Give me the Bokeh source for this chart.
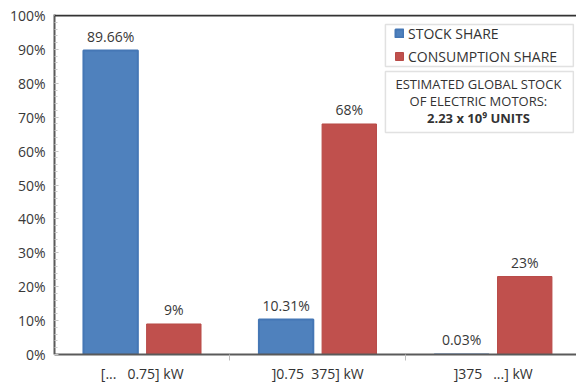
from bokeh.plotting import figure
from bokeh.models import (Range1d, FixedTicker, PrintfTickFormatter, Span, Legend,
                          LegendItem, Label, BoxAnnotation, ColumnDataSource)
from bokeh.core.properties import value
from bokeh.embed import file_html
from bokeh.resources import INLINE

categories = ["[...\u00a0\u00a0 0.75] kW", "]0.75\u00a0 375] kW", "]375\u00a0\u00a0 ...] kW"]
stock_share = [89.66, 10.31, 0.03]
consumption_share = [9, 68, 23]
stock_labels = ["89.66%", "10.31%", "0.03%"]
consumption_labels = ["9%", "68%", "23%"]
y_ticks = [0, 10, 20, 30, 40, 50, 60, 70, 80, 90, 100]
series_names = ["STOCK SHARE", "CONSUMPTION SHARE"]
info_lines = ["ESTIMATED GLOBAL STOCK", "OF ELECTRIC MOTORS:", "2.23 x 10\u2079 UNITS"]

BLUE = "#4F81BD"
RED = "#C0504D"
FONT = "Open Sans"
TXT = "#383838"

centers = [i + 0.5 for i in range(len(categories))]
off = 0.18
bw = 0.31

src_s = ColumnDataSource(dict(x=[c - off for c in centers], top=stock_share, lab=stock_labels))
src_c = ColumnDataSource(dict(x=[c + off for c in centers], top=consumption_share, lab=consumption_labels))

p = figure(width=576, height=387, output_backend="svg", toolbar_location=None,
           x_range=Range1d(0, 2.975), y_range=Range1d(0, 100.3),
           min_border_left=54, min_border_right=0, min_border_top=14, min_border_bottom=33)
p.outline_line_color = None
p.xgrid.visible = False
p.ygrid.visible = False
p.background_fill_color = "white"
p.border_fill_color = "white"

r1 = p.vbar(x="x", top="top", width=bw, source=src_s, fill_color=BLUE, line_color="#4577b5", line_width=2)
r2 = p.vbar(x="x", top="top", width=bw, source=src_c, fill_color=RED, line_color="#b84a47", line_width=1)

for src in (src_s, src_c):
    p.text(x="x", y="top", text="lab", source=src, text_align="center", text_baseline="bottom",
           y_offset=-5, text_font=value(FONT), text_font_size="14px", text_color=TXT)

# y axis
ya = p.yaxis[0]
ya.ticker = FixedTicker(ticks=y_ticks, minor_ticks=list(range(0, 101, 2)))
ya.formatter = PrintfTickFormatter(format="%d%%")
ya.axis_line_color = "#5a5a5a"
ya.axis_line_width = 2
ya.major_tick_in = 4
ya.major_tick_out = 0
ya.major_tick_line_color = "#c0c0c0"
ya.minor_tick_in = 3
ya.minor_tick_out = 0
ya.minor_tick_line_color = "#c8c8c8"
ya.major_label_text_font = FONT
ya.major_label_text_font_size = "14px"
ya.major_label_text_color = TXT
ya.major_label_standoff = 9

# x axis
xa = p.xaxis[0]
xa.ticker = FixedTicker(ticks=centers, minor_ticks=[1, 2])
xa.major_label_overrides = {c: lab for c, lab in zip(centers, categories)}
xa.axis_line_color = "#5a5a5a"
xa.axis_line_width = 2
xa.major_tick_in = 0
xa.major_tick_out = 0
xa.minor_tick_in = 0
xa.minor_tick_out = 6
xa.minor_tick_line_color = "#bdbdbd"
xa.major_label_text_font = FONT
xa.major_label_text_font_size = "14px"
xa.major_label_text_color = "#333333"
xa.major_label_standoff = 3

p.add_layout(Span(location=100, dimension="width", line_color="#333333", line_width=2))

# legend box and info box
p.add_layout(BoxAnnotation(left=1.886, right=2.957, top=97.35, bottom=84.96,
                           fill_color="white", fill_alpha=1, line_color="#9a9a9a", line_width=1.5))
p.add_layout(BoxAnnotation(left=1.886, right=2.957, top=83.48, bottom=65.49,
                           fill_color="white", fill_alpha=1, line_color="#9a9a9a", line_width=1.5))

legend = Legend(items=[LegendItem(label=series_names[0], renderers=[r1]),
                       LegendItem(label=series_names[1], renderers=[r2])],
                location=(340, 288), padding=5, spacing=3, label_height=20,
                glyph_width=10, glyph_height=10, label_standoff=4,
                label_text_font=FONT, label_text_font_size="14px", label_text_color="#333333",
                border_line_color=None, background_fill_alpha=0)
p.add_layout(legend)

for i, (line, yy) in enumerate(zip(info_lines, [79.94, 74.93, 69.91])):
    p.add_layout(Label(x=2.416, y=yy, text=line, text_align="center", text_baseline="middle",
                       text_font=FONT, text_font_size="13px", text_color="#333333",
                       text_font_style="bold" if i == 2 else "normal"))

open("out.html", "w").write(file_html(p, INLINE))
